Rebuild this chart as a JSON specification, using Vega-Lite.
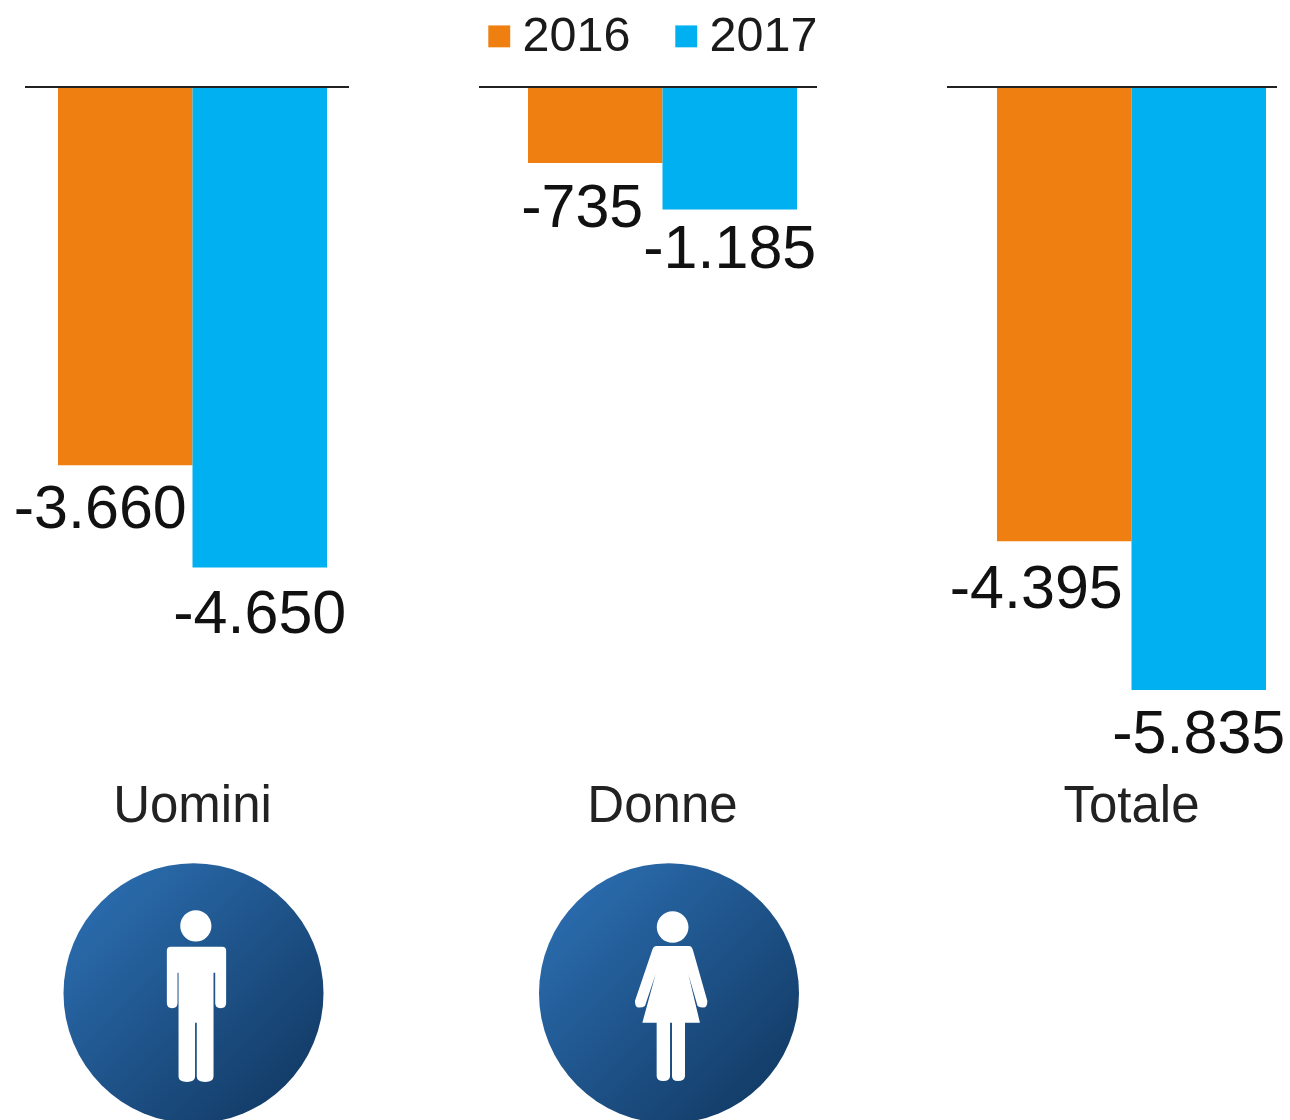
{
"$schema":"https://vega.github.io/schema/vega-lite/v6.json",
"background":"white",
"padding":{"left":13,"top":12,"right":0,"bottom":0},
"bounds":"flush",
"spacing":130,
"datasets":{
"bars":[
{"group":"Uomini","year":"2016","value":-3660,"label":"-3.660"},
{"group":"Uomini","year":"2017","value":-4650,"label":"-4.650"},
{"group":"Donne","year":"2016","value":-735,"label":"-735"},
{"group":"Donne","year":"2017","value":-1185,"label":"-1.185"},
{"group":"Totale","year":"2016","value":-4395,"label":"-4.395"},
{"group":"Totale","year":"2017","value":-5835,"label":"-5.835"}
]},
"config":{"view":{"stroke":null},"font":"Liberation Sans"},
"hconcat":[
{"width":324,"height":1033,
"transform":[{"filter":"datum.group==='Uomini'"}],
"data":{"name":"bars"},
"layer":[
{"mark":{"type":"bar"},"encoding":{"x":{"field":"year","type":"nominal","scale":{"domain":["2016","2017"],"range":[33,302],"paddingInner":0,"paddingOuter":0},"axis":null},"y":{"field":"value","type":"quantitative","scale":{"domain":[-9996,0],"nice":false},"axis":null},"color":{"field":"year","type":"nominal","scale":{"domain":["2016","2017"],"range":["#EE7F10","#00B0F0"]},"legend":{"orient":"none","legendX":450,"legendY":-75,"direction":"horizontal","title":null,"symbolType":"square","symbolSize":480,"symbolStrokeWidth":0,"labelFontSize":48.5,"labelColor":"#1a1a1a","labelFont":"Liberation Sans","columnPadding":31,"labelOffset":-1,"symbolOpacity":1,"labelLimit":200}}}},
{"transform":[{"filter":"datum.year==='2017'"}],"mark":{"type":"rule","color":"#222222","strokeWidth":2},"encoding":{"y":{"datum":0}}},
{"transform":[{"filter":"datum.year==='2016'"}],"mark":{"type":"text","fontSize":61,"color":"#111111","baseline":"middle","dy":45,"xOffset":-25},"encoding":{"x":{"field":"year","type":"nominal"},"y":{"field":"value","type":"quantitative"},"text":{"field":"label"}}},
{"transform":[{"filter":"datum.year==='2017'"}],"mark":{"type":"text","fontSize":61,"color":"#111111","baseline":"middle","dy":47},"encoding":{"x":{"field":"year","type":"nominal"},"y":{"field":"value","type":"quantitative"},"text":{"field":"label"}}},
{"transform":[{"filter":"datum.year==='2017'"}],"mark":{"type":"text","fontSize":51,"color":"#222222","baseline":"middle"},"encoding":{"x":{"field":"year","type":"nominal","bandPosition":0},"y":{"datum":-6968},"text":{"field":"group"}}},
{"transform":[{"filter":"datum.year==='2017'"}],"mark":{"type":"point","filled":true,"shape":"circle","size":67600,"opacity":1,"xOffset":1,"fill":{"gradient":"linear","x1":0,"y1":0,"x2":1,"y2":1,"stops":[{"offset":0,"color":"#2E73B8"},{"offset":1,"color":"#0F345C"}]}},"encoding":{"x":{"field":"year","type":"nominal","bandPosition":0},"y":{"datum":-8770}}},
{"transform":[{"filter":"datum.year==='2017'"}],"mark":{"type":"point","filled":true,"size":67600,"opacity":1,"color":"white","xOffset":1,"shape":"M-0.175,-0.359 L0.221,-0.359 Q0.251,-0.359 0.251,-0.329 L0.251,0.075 Q0.251,0.115 0.209,0.115 Q0.167,0.115 0.167,0.075 L0.167,-0.159 L0.154,-0.159 L0.154,0.64 Q0.154,0.682 0.09,0.682 Q0.025,0.682 0.025,0.64 L0.025,0.226 L0.012,0.226 L0.012,0.64 Q0.012,0.682 -0.05,0.682 Q-0.115,0.682 -0.115,0.64 L-0.115,-0.159 L-0.123,-0.159 L-0.123,0.075 Q-0.123,0.115 -0.164,0.115 Q-0.205,0.115 -0.205,0.075 L-0.205,-0.329 Q-0.205,-0.359 -0.175,-0.359 Z M0.138,-0.518 A0.12,0.12 0 1 1 -0.102,-0.518 A0.12,0.12 0 1 1 0.138,-0.518 Z"},"encoding":{"x":{"field":"year","type":"nominal","bandPosition":0},"y":{"datum":-8770}}}
]},
{"width":338,"height":1033,
"transform":[{"filter":"datum.group==='Donne'"}],
"data":{"name":"bars"},
"layer":[
{"mark":{"type":"bar"},"encoding":{"x":{"field":"year","type":"nominal","scale":{"domain":["2016","2017"],"range":[49,318],"paddingInner":0,"paddingOuter":0},"axis":null},"y":{"field":"value","type":"quantitative","scale":{"domain":[-9996,0],"nice":false},"axis":null},"color":{"field":"year","type":"nominal"}}},
{"transform":[{"filter":"datum.year==='2017'"}],"mark":{"type":"rule","color":"#222222","strokeWidth":2},"encoding":{"y":{"datum":0}}},
{"transform":[{"filter":"datum.year==='2016'"}],"mark":{"type":"text","fontSize":61,"color":"#111111","baseline":"middle","dy":46,"xOffset":-13},"encoding":{"x":{"field":"year","type":"nominal"},"y":{"field":"value","type":"quantitative"},"text":{"field":"label"}}},
{"transform":[{"filter":"datum.year==='2017'"}],"mark":{"type":"text","fontSize":61,"color":"#111111","baseline":"middle","dy":41},"encoding":{"x":{"field":"year","type":"nominal"},"y":{"field":"value","type":"quantitative"},"text":{"field":"label"}}},
{"transform":[{"filter":"datum.year==='2017'"}],"mark":{"type":"text","fontSize":51,"color":"#222222","baseline":"middle"},"encoding":{"x":{"field":"year","type":"nominal","bandPosition":0},"y":{"datum":-6968},"text":{"field":"group"}}},
{"transform":[{"filter":"datum.year==='2017'"}],"mark":{"type":"point","filled":true,"shape":"circle","size":67600,"opacity":1,"xOffset":6.5,"fill":{"gradient":"linear","x1":0,"y1":0,"x2":1,"y2":1,"stops":[{"offset":0,"color":"#2E73B8"},{"offset":1,"color":"#0F345C"}]}},"encoding":{"x":{"field":"year","type":"nominal","bandPosition":0},"y":{"datum":-8770}}},
{"transform":[{"filter":"datum.year==='2017'"}],"mark":{"type":"point","filled":true,"size":67600,"opacity":1,"color":"white","xOffset":6.5,"shape":"M-0.095,-0.364 L0.154,-0.364 Q0.175,-0.364 0.185,-0.33 L0.295,0.059 Q0.295,0.11 0.264,0.11 Q0.235,0.11 0.22,0.097 L0.149,-0.146 L0.238,0.226 L0.123,0.226 L0.123,0.636 Q0.123,0.674 0.067,0.674 Q0.023,0.674 0.023,0.636 L0.023,0.226 L0.008,0.226 L0.008,0.636 Q0.008,0.674 -0.044,0.674 Q-0.095,0.674 -0.095,0.636 L-0.095,0.226 L-0.205,0.226 L-0.103,-0.146 L-0.185,0.097 Q-0.2,0.11 -0.231,0.11 Q-0.262,0.11 -0.262,0.059 L-0.13,-0.33 Q-0.12,-0.364 -0.095,-0.364 Z M0.15,-0.51 A0.122,0.122 0 1 1 -0.094,-0.51 A0.122,0.122 0 1 1 0.15,-0.51 Z"},"encoding":{"x":{"field":"year","type":"nominal","bandPosition":0},"y":{"datum":-8770}}}
]},
{"width":330,"height":1033,
"transform":[{"filter":"datum.group==='Totale'"}],
"data":{"name":"bars"},
"layer":[
{"mark":{"type":"bar"},"encoding":{"x":{"field":"year","type":"nominal","scale":{"domain":["2016","2017"],"range":[50,319],"paddingInner":0,"paddingOuter":0},"axis":null},"y":{"field":"value","type":"quantitative","scale":{"domain":[-9996,0],"nice":false},"axis":null},"color":{"field":"year","type":"nominal"}}},
{"transform":[{"filter":"datum.year==='2017'"}],"mark":{"type":"rule","color":"#222222","strokeWidth":2},"encoding":{"y":{"datum":0}}},
{"transform":[{"filter":"datum.year==='2016'"}],"mark":{"type":"text","fontSize":61,"color":"#111111","baseline":"middle","dy":49,"xOffset":-28},"encoding":{"x":{"field":"year","type":"nominal"},"y":{"field":"value","type":"quantitative"},"text":{"field":"label"}}},
{"transform":[{"filter":"datum.year==='2017'"}],"mark":{"type":"text","fontSize":61,"color":"#111111","baseline":"middle","dy":45},"encoding":{"x":{"field":"year","type":"nominal"},"y":{"field":"value","type":"quantitative"},"text":{"field":"label"}}},
{"transform":[{"filter":"datum.year==='2017'"}],"mark":{"type":"text","fontSize":51,"color":"#222222","baseline":"middle"},"encoding":{"x":{"field":"year","type":"nominal","bandPosition":0},"y":{"datum":-6968},"text":{"field":"group"}}}
]}
]}
